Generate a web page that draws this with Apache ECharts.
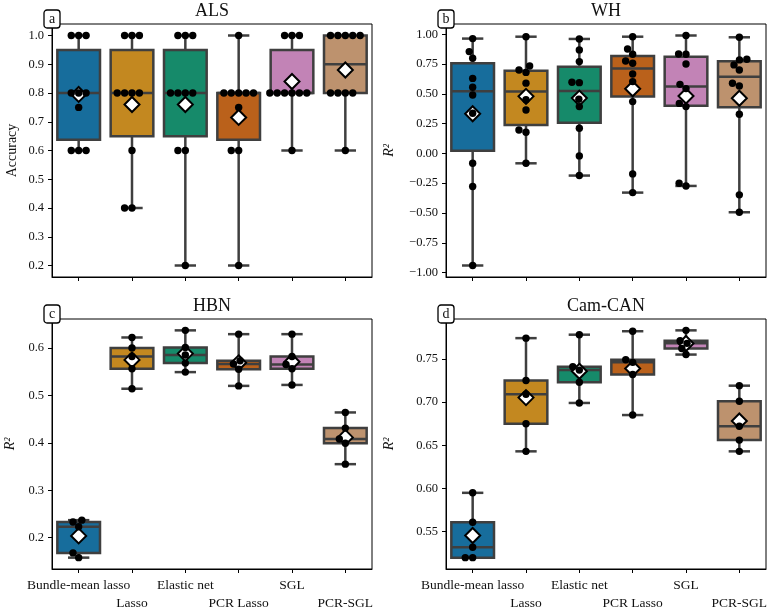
<!DOCTYPE html>
<html><head><meta charset="utf-8">
<script src="https://cdn.jsdelivr.net/npm/echarts@6/dist/echarts.min.js"></script>
<style>html,body{margin:0;padding:0;background:#fff}#c{width:771px;height:612px}</style>
</head><body><div id="c"></div><script>
const methods = ['Bundle-mean lasso', 'Lasso', 'Elastic net', 'PCR Lasso', 'SGL', 'PCR-SGL'];
const palette = ['#176D9C', '#C38820', '#168A6A', '#BA611B', '#C283B6', '#BD926E'];

// ALS (accuracy, per CV fold)
const alsBundle   = [1.0, 1.0, 1.0, 0.8, 0.8, 0.8, 0.75, 0.6, 0.6, 0.6];
const alsLasso    = [1.0, 1.0, 1.0, 0.8, 0.8, 0.8, 0.8, 0.6, 0.4, 0.4];
const alsElastic  = [1.0, 1.0, 1.0, 0.8, 0.8, 0.8, 0.8, 0.6, 0.6, 0.2];
const alsPcrLasso = [1.0, 0.8, 0.8, 0.8, 0.8, 0.8, 0.75, 0.6, 0.6, 0.2];
const alsSgl      = [1.0, 1.0, 1.0, 0.8, 0.8, 0.8, 0.8, 0.8, 0.8, 0.6];
const alsPcrSgl   = [1.0, 1.0, 1.0, 1.0, 1.0, 0.8, 0.8, 0.8, 0.8, 0.6];

// WH (R^2)
const whBundle   = [0.964, 0.855, 0.80, 0.63, 0.555, 0.49, 0.337, -0.083, -0.278, -0.941];
const whLasso    = [0.98, 0.734, 0.70, 0.68, 0.59, 0.45, 0.365, 0.197, 0.178, -0.083];
const whElastic  = [0.961, 0.869, 0.771, 0.597, 0.594, 0.455, 0.393, 0.211, -0.021, -0.186];
const whPcrLasso = [0.98, 0.877, 0.832, 0.776, 0.757, 0.667, 0.603, 0.435, -0.172, -0.329];
const whSgl      = [0.99, 0.835, 0.832, 0.751, 0.58, 0.544, 0.42, 0.393, -0.25, -0.273];
const whPcrSgl   = [0.975, 0.79, 0.785, 0.743, 0.70, 0.589, 0.566, 0.329, -0.348, -0.494];

// HBN (R^2)
const hbnBundle   = [0.237, 0.233, 0.223, 0.168, 0.158];
const hbnLasso    = [0.622, 0.600, 0.582, 0.556, 0.514];
const hbnElastic  = [0.637, 0.601, 0.585, 0.568, 0.549];
const hbnPcrLasso = [0.629, 0.573, 0.566, 0.555, 0.520];
const hbnSgl      = [0.629, 0.582, 0.565, 0.556, 0.522];
const hbnPcrSgl   = [0.464, 0.431, 0.408, 0.399, 0.355];

// Cam-CAN (R^2)
const camBundle   = [0.595, 0.561, 0.532, 0.520, 0.520];
const camLasso    = [0.774, 0.725, 0.709, 0.675, 0.643];
const camElastic  = [0.778, 0.741, 0.737, 0.723, 0.699];
const camPcrLasso = [0.782, 0.749, 0.746, 0.732, 0.685];
const camSgl      = [0.783, 0.771, 0.768, 0.762, 0.755];
const camPcrSgl   = [0.719, 0.701, 0.672, 0.656, 0.643];

// tick values
const alsTicks = [0.2, 0.3, 0.4, 0.5, 0.6, 0.7, 0.8, 0.9, 1.0];
const whTicks  = [-1.0, -0.75, -0.5, -0.25, 0.0, 0.25, 0.5, 0.75, 1.0];
const hbnTicks = [0.2, 0.3, 0.4, 0.5, 0.6];
const camTicks = [0.55, 0.60, 0.65, 0.70, 0.75];

const panelTitles = ['ALS', 'WH', 'HBN', 'Cam-CAN'];
const panelLetters = ['a', 'b', 'c', 'd'];
const panelYNames = ['Accuracy', 'R²', 'R²', 'R²'];

// ---------- layout / style ----------
const FONT = '"Liberation Serif", "Times New Roman", serif';
const layout = [
  {left: 52,  top: 24,  width: 320, height: 253, nameGap: 33, digits: 1, xLabels: false},
  {left: 446, top: 24,  width: 320, height: 253, nameGap: 50, digits: 2, xLabels: false},
  {left: 52,  top: 319, width: 320, height: 252, nameGap: 35, digits: 1, xLabels: true},
  {left: 446, top: 319, width: 320, height: 252, nameGap: 50, digits: 2, xLabels: true}
];
const panelData = [
  [alsBundle, alsLasso, alsElastic, alsPcrLasso, alsSgl, alsPcrSgl],
  [whBundle, whLasso, whElastic, whPcrLasso, whSgl, whPcrSgl],
  [hbnBundle, hbnLasso, hbnElastic, hbnPcrLasso, hbnSgl, hbnPcrSgl],
  [camBundle, camLasso, camElastic, camPcrLasso, camSgl, camPcrSgl]
];
const panelTicks = [alsTicks, whTicks, hbnTicks, camTicks];
const DOT = 7.4;
const LINE = '#3f3f3f';

function quantile(sorted, q) {
  const pos = (sorted.length - 1) * q;
  const lo = Math.floor(pos), hi = Math.ceil(pos);
  return sorted[lo] + (sorted[hi] - sorted[lo]) * (pos - lo);
}
function stats(vals) {
  const s = vals.slice().sort((a, b) => a - b);
  return {min: s[0], q1: quantile(s, 0.25), med: quantile(s, 0.5), q3: quantile(s, 0.75), max: s[s.length - 1],
          mean: vals.reduce((a, b) => a + b, 0) / vals.length};
}
// beeswarm (pixel space), returns horizontal pixel offsets
function swarm(vals, pxPerUnit, d) {
  const idx = vals.map((v, i) => i).sort((a, b) => vals[a] - vals[b]);
  const placed = [];
  const out = new Array(vals.length);
  for (const i of idx) {
    const y = vals[i] * pxPerUnit;
    const neigh = placed.filter(p => Math.abs(p.y - y) < d);
    const cands = [0];
    neigh.forEach(p => cands.push(p.x - Math.sqrt(d * d - (p.y - y) ** 2)));
    neigh.forEach(p => cands.push(p.x + Math.sqrt(d * d - (p.y - y) ** 2)));
    const order = cands.map((c, k) => [Math.abs(c), k, c]).sort((a, b) => (a[0] - b[0]) || (a[1] - b[1]));
    let chosen = 0;
    for (const o of order) {
      const c = o[2];
      if (neigh.every(p => Math.hypot(p.x - c, p.y - y) >= d - 1e-6)) { chosen = c; break; }
    }
    placed.push({x: chosen, y});
    out[i] = chosen;
  }
  return out;
}
function fmt(v, digits) {
  return (v < -1e-9 ? '\u2212' : '') + Math.abs(v).toFixed(digits);
}

const grids = [], xAxes = [], yAxes = [], series = [], graphics = [];
layout.forEach((L, k) => {
  const groups = panelData[k];
  const all = [].concat(...groups);
  const dmin = Math.min(...all), dmax = Math.max(...all);
  const span = dmax - dmin;
  const ymin = dmin - 0.05 * span, ymax = dmax + 0.05 * span;
  const pxPerUnit = L.height / (ymax - ymin);
  const band = L.width / methods.length;

  grids.push({left: L.left, top: L.top, width: L.width, height: L.height, show: true,
              borderColor: '#000', borderWidth: 1, backgroundColor: 'transparent', containLabel: false});
  xAxes.push({
    gridIndex: k, type: 'category', data: methods, boundaryGap: true, position: 'bottom',
    axisLine: {show: true, onZero: false, lineStyle: {color: '#000', width: 1}},
    axisTick: {show: true, alignWithLabel: true, interval: 0, length: 4, lineStyle: {color: '#000', width: 1}},
    axisLabel: {show: L.xLabels, interval: 0, margin: 7, color: '#111', fontFamily: FONT, fontSize: 13.5, lineHeight: 18,
                formatter: (v, i) => (i % 2 ? '\n' + v : v)},
    splitLine: {show: false}
  });
  xAxes.push({gridIndex: k, type: 'value', min: -0.5, max: methods.length - 0.5, show: false,
              axisLine: {onZero: false}, splitLine: {show: false}});
  const ticks = panelTicks[k];
  yAxes.push({
    gridIndex: k, type: 'value', min: ymin, max: ymax,
    axisLine: {show: true, onZero: false, lineStyle: {color: '#000', width: 1}},
    axisTick: {show: true, length: 4, customValues: ticks, lineStyle: {color: '#000', width: 1}},
    axisLabel: {customValues: ticks, formatter: v => fmt(v, L.digits), color: '#111', fontFamily: FONT, fontSize: 12.5, margin: 8},
    splitLine: {show: false},
    name: panelYNames[k], nameLocation: 'middle', nameGap: L.nameGap,
    nameTextStyle: {fontFamily: FONT, fontSize: 14, color: '#111', fontStyle: panelYNames[k] === 'R²' ? 'italic' : 'normal'}
  });

  const st = groups.map(stats);
  series.push({
    type: 'custom', xAxisIndex: 2 * k + 1, yAxisIndex: k, z: 2, silent: true,
    data: st.map((s, i) => [i, s.min, s.q1, s.med, s.q3, s.max]),
    renderItem: (params, api) => {
      const i = api.value(0);
      const bw = api.size([1, 0])[0] * 0.8, cw = bw * 0.5;
      const cx = api.coord([i, api.value(1)])[0];
      const yMin = api.coord([i, api.value(1)])[1];
      const yQ1 = api.coord([i, api.value(2)])[1];
      const yMed = api.coord([i, api.value(3)])[1];
      const yQ3 = api.coord([i, api.value(4)])[1];
      const yMax = api.coord([i, api.value(5)])[1];
      const ls = {stroke: LINE, lineWidth: 2.5};
      return {type: 'group', children: [
        {type: 'line', shape: {x1: cx, y1: yQ3, x2: cx, y2: yMax}, style: ls},
        {type: 'line', shape: {x1: cx, y1: yQ1, x2: cx, y2: yMin}, style: ls},
        {type: 'line', shape: {x1: cx - cw / 2, y1: yMax, x2: cx + cw / 2, y2: yMax}, style: ls},
        {type: 'line', shape: {x1: cx - cw / 2, y1: yMin, x2: cx + cw / 2, y2: yMin}, style: ls},
        {type: 'rect', shape: {x: cx - bw / 2, y: yQ3, width: bw, height: yQ1 - yQ3},
         style: {fill: palette[i], stroke: LINE, lineWidth: 2.5}},
        {type: 'line', shape: {x1: cx - bw / 2, y1: yMed, x2: cx + bw / 2, y2: yMed}, style: ls}
      ]};
    }
  });
  series.push({
    type: 'scatter', xAxisIndex: 2 * k + 1, yAxisIndex: k, z: 3, silent: true,
    symbol: 'diamond', symbolSize: 15,
    itemStyle: {color: '#fff', borderColor: '#000', borderWidth: 2, opacity: 1},
    data: st.map((s, i) => [i, s.mean])
  });
  const pts = [];
  groups.forEach((vals, i) => {
    const off = swarm(vals, pxPerUnit, DOT);
    vals.forEach((v, j) => pts.push([i + off[j] / band, v]));
  });
  series.push({
    type: 'scatter', xAxisIndex: 2 * k + 1, yAxisIndex: k, z: 4, silent: true,
    symbol: 'circle', symbolSize: DOT, itemStyle: {color: '#000', opacity: 1},
    data: pts
  });

  graphics.push({type: 'text', x: L.left + L.width / 2, y: L.top - 13, z: 10,
    style: {text: panelTitles[k], textAlign: 'center', textVerticalAlign: 'middle', fill: '#111',
            font: '18px ' + FONT}});
  graphics.push({type: 'rect', x: L.left - 8, y: L.top - 14, z: 10,
    shape: {x: 0, y: 0, width: 16, height: 18, r: 3},
    style: {fill: '#fff', stroke: '#000', lineWidth: 1.3}});
  graphics.push({type: 'text', x: L.left, y: L.top - 5, z: 11,
    style: {text: panelLetters[k], textAlign: 'center', textVerticalAlign: 'middle', fill: '#111',
            font: '14px ' + FONT}});
});

const chart = echarts.init(document.getElementById('c'), null, {renderer: 'canvas'});
chart.setOption({
  animation: false,
  backgroundColor: '#fff',
  grid: grids, xAxis: xAxes, yAxis: yAxes, series: series, graphic: graphics
});
</script></body></html>
